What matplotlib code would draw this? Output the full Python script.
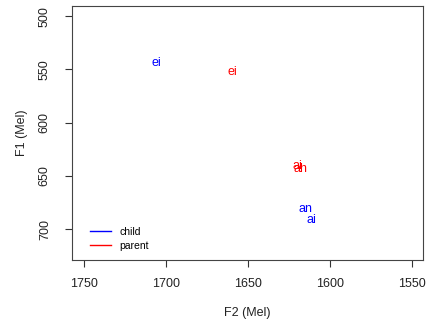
import matplotlib
matplotlib.use("Agg")
import matplotlib.pyplot as plt
from matplotlib.lines import Line2D

plt.rcParams["font.family"] = ["Liberation Sans", "DejaVu Sans"]

# vowel labels with (F2, F1) in Mel
child_labels = ["ei", "an", "ai"]
child_f2 = [1706, 1614.7, 1611.4]
child_f1 = [544.3, 681.0, 691.3]

parent_labels = ["ei", "ai", "ah"]
parent_f2 = [1659.5, 1619.8, 1618.1]
parent_f1 = [552.2, 640.3, 643.7]

x_ticks = [1750, 1700, 1650, 1600, 1550]
y_ticks = [500, 550, 600, 650, 700]

fig = plt.figure(figsize=(4.28, 3.23), dpi=100)
ax = fig.add_axes([0.1675, 0.195, 0.821, 0.786])

for lab, x, y in zip(child_labels, child_f2, child_f1):
    ax.text(x, y, lab, color="blue", fontsize=9, ha="center", va="center")
for lab, x, y in zip(parent_labels, parent_f2, parent_f1):
    ax.text(x, y, lab, color="red", fontsize=9, ha="center", va="center")

ax.set_xlim(1757.5, 1543.1)
ax.set_ylim(728.8, 490.6)
ax.set_xticks(x_ticks)
ax.set_yticks(y_ticks)
ax.set_yticklabels([str(v) for v in y_ticks], rotation=90, va="center")
ax.tick_params(direction="out", length=5, width=0.8, labelsize=9, pad=8,
               colors="#333333", labelcolor="#222222")
ax.tick_params(axis="y", pad=10)
for s in ax.spines.values():
    s.set_color("#444444")
    s.set_linewidth(0.8)

ax.set_xlabel("F2 (Mel)", fontsize=9, labelpad=12, color="#222222")
ax.set_ylabel("F1 (Mel)", fontsize=9, labelpad=8, color="#222222")

handles = [Line2D([], [], color="blue", lw=1), Line2D([], [], color="red", lw=1)]
ax.legend(handles, ["child", "parent"], loc="lower left", frameon=False,
          fontsize=7.5, handlelength=2.0, handletextpad=0.8, labelspacing=0.35,
          bbox_to_anchor=(0.025, 0.0))

fig.savefig("out.png", dpi=100)
